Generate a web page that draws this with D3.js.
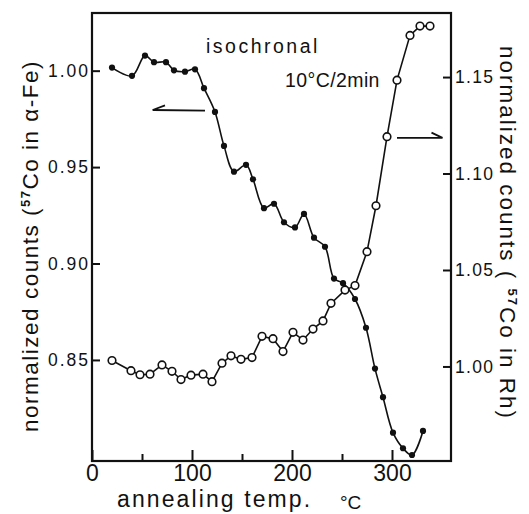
<!DOCTYPE html>
<html><head><meta charset="utf-8">
<script src="https://cdn.jsdelivr.net/npm/d3@7"></script>
<style>
body{margin:0;background:#fff}
svg text{font-family:"Liberation Sans",Arial,sans-serif;fill:#111}
</style></head><body>
<svg id="c" width="529" height="514"></svg>
<script>
// ---- data ----
const feTemps  = [20,40,53,62,74,82,93,103,112,123,132,142,154,161,172,182,192,203,212,222,233,242,251,263,274,283,291,301,311,320,331];
const feCounts = [1.0016,0.9973,1.0078,1.0044,1.0044,1.0002,0.9995,1.0007,0.9909,0.9786,0.9610,0.9476,0.9512,0.9437,0.9287,0.9310,0.9214,0.9187,0.9257,0.9134,0.9087,0.8922,0.8898,0.8816,0.8667,0.8455,0.8307,0.8123,0.8042,0.8007,0.8132];
const rhTemps  = [20,39,48,58,70,80,89,99,111,120,130,139,149,160,170,181,191,201,211,221,231,239,253,263,275,284,295,305,318,328,338];
const rhCounts = [1.0031,0.9978,0.9957,0.9960,1.0008,0.9975,0.9932,0.9955,0.9960,0.9921,1.0017,1.0055,1.0037,1.0046,1.0156,1.0144,1.0077,1.0177,1.0137,1.0194,1.0236,1.0327,1.0396,1.0419,1.0595,1.0833,1.1191,1.1484,1.1716,1.1764,1.1764];
const xTicks = [0,100,200,300];
const xMinorTicks = [50,150,250];
const leftTicks = [0.85,0.90,0.95,1.00];
const rightTicks = [1.00,1.05,1.10,1.15];
const xTitle = "annealing temp.";
const xUnit = "°C";
const annotation1 = "isochronal";
const annotation2 = "10°C/2min";
// arrows in data units: [x, y]
const leftArrow  = {tail:[113,0.9793], tip:[60.7,0.9796], barb:[73,0.9820]};
const rightArrow = {tail:[305,1.1185], tip:[350.5,1.1185], barb:[339.5,1.1212]};

const svg = d3.select("#c");
const x  = d3.scaleLinear().domain([0,359]).range([92,451]);
const yL = d3.scaleLinear().domain([0.7976,1.0299]).range([461,13]);
const yR = d3.scaleLinear().domain([0.951,1.1832]).range([461,13]);

const [x0,x1] = x.range();
const [yb,yt] = yL.range();

// axes
const gL = svg.append("g").attr("transform",`translate(${x0},0)`)
  .call(d3.axisLeft(yL).tickValues(leftTicks).tickSize(-8).tickPadding(2).tickFormat(d3.format(".2f")));
gL.selectAll("text").style("font-size","17.5px").style("letter-spacing","2px");
const gR = svg.append("g").attr("transform",`translate(${x1},0)`)
  .call(d3.axisRight(yR).tickValues(rightTicks).tickSize(-8).tickPadding(4).tickFormat(d3.format(".2f")));
gR.selectAll("text").style("font-size","17.5px").style("letter-spacing","1.3px");
const gB = svg.append("g").attr("transform",`translate(0,${yb})`)
  .call(d3.axisBottom(x).tickValues(xTicks).tickSize(-11).tickPadding(4));
gB.selectAll("text").style("font-size","23px").style("letter-spacing","0px");
const gB2 = svg.append("g").attr("transform",`translate(0,${yb})`)
  .call(d3.axisBottom(x).tickValues(xMinorTicks).tickSize(-7).tickFormat(""));
[gL,gR,gB,gB2].forEach(g=>{
  g.select(".domain").remove();
  g.selectAll("line").attr("stroke","#111").attr("stroke-width",2);
  g.selectAll("text").attr("fill","#111").attr("font-family",null);
});

// frame
svg.append("rect").attr("x",x0).attr("y",yt).attr("width",x1-x0).attr("height",yb-yt)
  .attr("fill","none").attr("stroke","#111").attr("stroke-width",2.2);

// lines
const fe = feTemps.map((t,i)=>[t,feCounts[i]]);
const rh = rhTemps.map((t,i)=>[t,rhCounts[i]]);
svg.append("path").datum(fe).attr("fill","none").attr("stroke","#111").attr("stroke-width",1.6)
  .attr("d",d3.line().x(d=>x(d[0])).y(d=>yL(d[1])).curve(d3.curveCatmullRom.alpha(0.5)));
svg.append("path").datum(rh).attr("fill","none").attr("stroke","#111").attr("stroke-width",1.6)
  .attr("d",d3.line().x(d=>x(d[0])).y(d=>yR(d[1])));

svg.append("g").selectAll("circle").data(fe).join("circle")
  .attr("cx",d=>x(d[0])).attr("cy",d=>yL(d[1])).attr("r",3.1).attr("fill","#111");
svg.append("g").selectAll("circle").data(rh).join("circle")
  .attr("cx",d=>x(d[0])).attr("cy",d=>yR(d[1])).attr("r",3.8).attr("fill","#fff")
  .attr("stroke","#111").attr("stroke-width",1.6);

// arrows
function arrow(a, ys){
  const p = d=>[x(d[0]), ys(d[1])];
  svg.append("path").attr("fill","none").attr("stroke","#111").attr("stroke-width",1.8)
    .attr("d", d3.line()([p(a.tail), p(a.tip), p(a.barb)]));
}
arrow(leftArrow, yL);
arrow(rightArrow, yR);

// annotations
svg.append("text").attr("x",206).attr("y",53).style("font-size","19.5px").style("letter-spacing","2.5px").text(annotation1);
svg.append("text").attr("x",285).attr("y",87).style("font-size","19.5px").style("letter-spacing","0.4px").text(annotation2);

// axis titles
svg.append("text").attr("x",117).attr("y",507).style("font-size","23px").style("letter-spacing","2.1px").text(xTitle);
svg.append("text").attr("x",340).attr("y",509).style("font-size","19px").text(xUnit);

const lt = svg.append("text").attr("transform","translate(38,246) rotate(-90)")
  .attr("text-anchor","middle").style("font-size","22.5px").style("letter-spacing","1.5px");
lt.append("tspan").text("normalized  counts (");
lt.append("tspan").attr("dy",-8).style("font-size","13px").style("font-weight","bold").text("57");
lt.append("tspan").attr("dy",8).text("Co in α-Fe)");

const rt = svg.append("text").attr("transform","translate(500,233) rotate(90)")
  .attr("text-anchor","middle").style("font-size","22.5px").style("letter-spacing","2px");
rt.append("tspan").text("normalized  counts ( ");
rt.append("tspan").attr("dy",-8).style("font-size","13px").style("font-weight","bold").text("57");
rt.append("tspan").attr("dy",8).text("Co in Rh)");
</script>
</body></html>
